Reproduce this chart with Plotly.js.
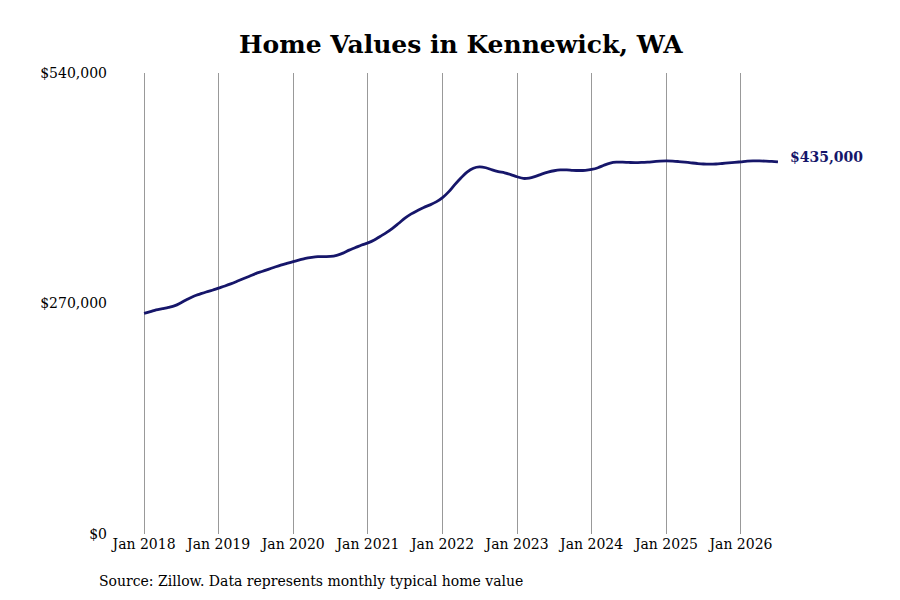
<!DOCTYPE html>
<html>
<head>
<meta charset="utf-8">
<script src="https://cdn.plot.ly/plotly-3.0.1.min.js"></script>
<style>
  html, body { margin: 0; padding: 0; background: #fff; }
  #chart { width: 900px; height: 600px; }
</style>
</head>
<body>
<div id="chart"></div>
<script>
// monthly typical home value (Jan 2018 .. Jul 2026)
var years = [2018, 2019, 2020, 2021, 2022, 2023, 2024, 2025, 2026];
var values = [
  258500, 260500, 262500, 264000, 265500, 267500, 271000, 275000, 278500, 281000, 283500, 285500,
  288000, 290500, 293000, 296000, 299000, 302000, 305000, 307500, 310000, 312500, 315000, 317000,
  319000, 321000, 322800, 324000, 324800, 325000, 325200, 326500, 329000, 332500, 335500, 338500,
  341000, 344500, 348500, 353000, 358000, 364000, 370000, 375000, 379000, 382500, 385500, 389000,
  394000, 401000, 409000, 417000, 424000, 428500, 430000, 429000, 426500, 424500, 423000, 421000,
  418500, 416500, 417000, 419000, 421500, 423800, 425500, 426500, 426500, 426000, 425800, 426000,
  427000, 429000, 432000, 434500, 435500, 435500, 435200, 435000, 435200, 435600, 436200, 436800,
  437000, 436800, 436300, 435600, 434800, 434000, 433400, 433200, 433400, 434000, 434700, 435300,
  436000, 436700, 437000, 437000, 436800, 436500, 436000
];
var yTicks = [0, 270000, 540000];
var yTickText = ['$0', '$270,000', '$540,000'];
var lastLabel = '$435,000';

var dates = [];
for (var i = 0; i < values.length; i++) {
  var y = 2018 + Math.floor(i / 12);
  var m = (i % 12) + 1;
  dates.push(y + '-' + (m < 10 ? '0' + m : m) + '-01');
}
var xTicks = years.map(function (y) { return y + '-01-01'; });
var xTickText = years.map(function (y) { return 'Jan ' + y; });

var navy = '#16166a';
var serif = 'DejaVu Serif, serif';

var trace = {
  x: dates,
  y: values,
  type: 'scatter',
  mode: 'lines',
  line: { color: navy, width: 2.8, shape: 'spline' },
  hoverinfo: 'none'
};

var layout = {
  width: 900,
  height: 600,
  margin: { l: 112, r: 120, t: 73, b: 66 },
  paper_bgcolor: '#fff',
  plot_bgcolor: '#fff',
  showlegend: false,
  title: {
    text: '<b>Home Values in Kennewick, WA</b>',
    font: { family: serif, size: 25, color: '#000' },
    x: 0.512, xanchor: 'center', y: 0.927, yanchor: 'middle'
  },
  xaxis: {
    type: 'date',
    range: ['2017-07-28', '2026-07-11'],
    tickvals: xTicks,
    ticktext: xTickText,
    showgrid: true,
    gridcolor: '#999',
    gridwidth: 1,
    zeroline: false,
    showline: false,
    ticks: '',
    tickfont: { family: serif, size: 14, color: '#000' }
  },
  yaxis: {
    range: [0, 540000],
    tickvals: yTicks,
    ticktext: yTickText,
    showgrid: false,
    zeroline: false,
    showline: false,
    ticks: '',
    ticklabelstandoff: 4,
    tickfont: { family: serif, size: 14, color: '#000' }
  },
  annotations: [
    {
      x: dates[dates.length - 1],
      y: values[values.length - 1],
      xref: 'x', yref: 'y',
      text: '<b>' + lastLabel + '</b>',
      showarrow: false,
      xanchor: 'left',
      yanchor: 'middle',
      xshift: 10,
      yshift: 5,
      font: { family: serif, size: 14, color: navy }
    },
    {
      text: 'Source: Zillow. Data represents monthly typical home value',
      xref: 'paper', yref: 'paper',
      showarrow: false,
      font: { family: serif, size: 14, color: '#000' }
    }
  ]
};

// source line sits below the axis: place it in pixel terms
layout.annotations[1].x = (97 - 112) / (900 - 112 - 120);
layout.annotations[1].xanchor = 'left';
layout.annotations[1].y = -(581 - 534) / (600 - 73 - 66);
layout.annotations[1].yanchor = 'middle';

Plotly.newPlot('chart', [trace], layout, { displayModeBar: false, staticPlot: true });
</script>
</body>
</html>
